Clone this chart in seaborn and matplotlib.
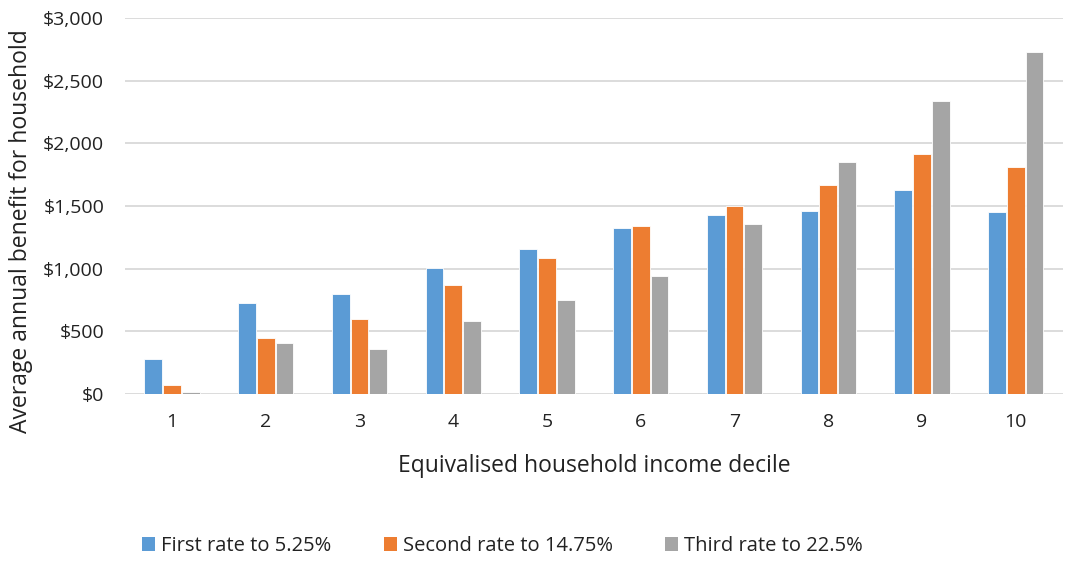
import pandas as pd
import matplotlib.pyplot as plt
import seaborn as sns
from matplotlib.ticker import FuncFormatter
from matplotlib.patches import Patch

deciles = ['1', '2', '3', '4', '5', '6', '7', '8', '9', '10']
seri_isimleri = ['First rate to 5.25%', 'Second rate to 14.75%', 'Third rate to 22.5%']
first_rate = [275, 726, 798, 1008, 1157, 1328, 1426, 1458, 1628, 1450]
second_rate = [75, 446, 595, 867, 1088, 1339, 1498, 1671, 1918, 1810]
third_rate = [15, 406, 355, 579, 747, 938, 1357, 1850, 2340, 2731]
renkler = ['#5B9BD5', '#ED7D31', '#A5A5A5']

df = pd.DataFrame({'Decile': deciles,
                   seri_isimleri[0]: first_rate,
                   seri_isimleri[1]: second_rate,
                   seri_isimleri[2]: third_rate})
df_uzun = df.melt(id_vars='Decile', var_name='Seri', value_name='Deger')

sns.set_style('white')
plt.rcParams['font.family'] = ['Open Sans', 'DejaVu Sans']

fig = plt.figure(figsize=(10.69, 5.62), dpi=100)
ax = fig.add_axes([0.117, 0.299, 0.877, 0.669])

sns.barplot(data=df_uzun, x='Decile', y='Deger', hue='Seri', order=deciles,
            hue_order=seri_isimleri, palette=renkler, saturation=1, width=0.6, gap=0.06,
            edgecolor='white', linewidth=0.6, ax=ax, legend=False, zorder=3)

ax.set_ylim(0, 3000)
ax.set_yticks(range(0, 3001, 500))
ax.yaxis.set_major_formatter(FuncFormatter(lambda v, p: f'${v:,.0f}'))
ax.grid(axis='y', color='#D9D9D9', linewidth=1.3, zorder=0)
ax.set_axisbelow(True)
for s in ['top', 'right', 'left', 'bottom']:
    ax.spines[s].set_visible(False)
ax.tick_params(axis='both', length=0, labelsize=14, colors='#222222')
ax.tick_params(axis='x', pad=14)
ax.tick_params(axis='y', pad=15)

ax.set_xlabel('Equivalised household income decile', fontsize=16.5, color='#222222', labelpad=16)
ax.set_ylabel('Average annual benefit for household', fontsize=16.5, color='#222222')
ax.yaxis.set_label_coords(-0.098, 0.434)

handles = [Patch(facecolor=c, edgecolor='none') for c in renkler]
fig.legend(handles, seri_isimleri, loc='lower center', bbox_to_anchor=(0.47, -0.022), ncol=3,
           frameon=False, fontsize=14.5, handlelength=0.65, handleheight=0.65,
           handletextpad=0.3, columnspacing=2.6, labelcolor='#222222')

plt.savefig('out.png', dpi=100)
